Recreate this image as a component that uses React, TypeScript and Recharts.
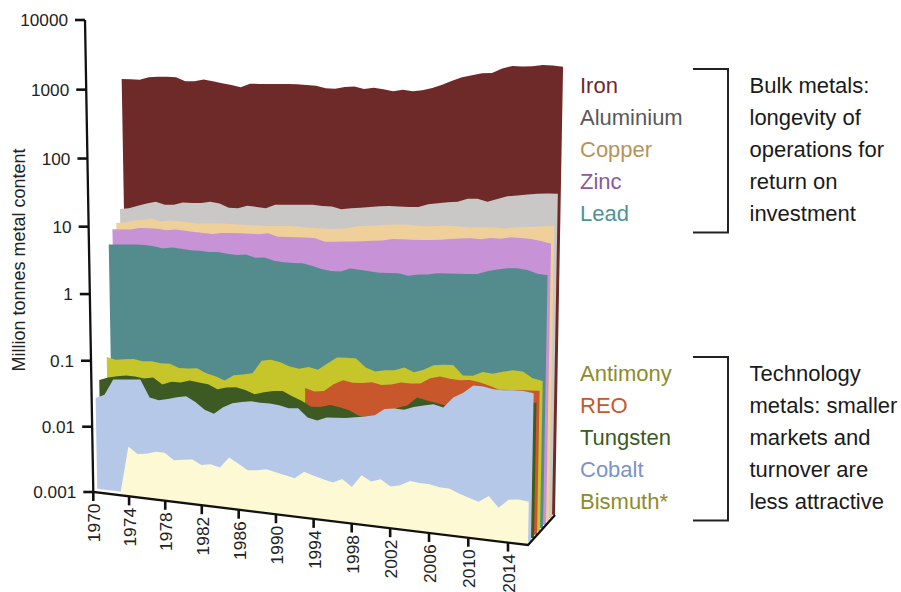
import { AreaChart, Area, XAxis, YAxis } from 'recharts'

const years = [
  1970, 1971, 1972, 1973, 1974, 1975, 1976, 1977, 1978, 1979, 1980, 1981, 1982, 1983, 1984, 1985,
  1986, 1987, 1988, 1989, 1990, 1991, 1992, 1993, 1994, 1995, 1996, 1997, 1998, 1999, 2000, 2001,
  2002, 2003, 2004, 2005, 2006, 2007, 2008, 2009, 2010, 2011, 2012, 2013, 2014, 2015, 2016,
]
const xTicks = [1970, 1974, 1978, 1982, 1986, 1990, 1994, 1998, 2002, 2006, 2010, 2014]
const yTicks = [0.001, 0.01, 0.1, 1, 10, 100, 1000, 10000]

// Million tonnes
const iron = [
  525, 534, 536, 596, 617, 627, 631, 564, 575, 624, 603, 575, 553, 525, 603, 612, 624, 638, 652, 661, 656, 652, 614, 617,
  670, 697, 656, 697, 676, 650, 697, 676, 716, 782, 891, 1030, 1175, 1280, 1390, 1430, 1680, 1860, 1860, 1920, 2040, 2040, 2000,
]
const aluminium = [
  7.4, 7.76, 8.7, 9.6, 10.5, 9.7, 10, 11.1, 11.2, 11.5, 12.3, 11.9, 10.6, 10.7, 11.9, 11.8, 11.6, 13.4, 13.7, 14.1, 14.5, 14.8, 14.6, 14.8,
  13.9, 14.7, 15.4, 16.1, 17, 17.6, 17.8, 18, 18.4, 20.7, 22, 23.2, 24.2, 27.4, 28.2, 26.3, 29.5, 33, 34.7, 36.8, 38.7, 39.8, 40.7,
]
const copper = [
  5.15, 5.35, 5.9, 6.27, 6.6, 6.2, 6.6, 6.6, 6.55, 6.45, 6.64, 6.84, 6.93, 6.98, 7.06, 7.13, 7.2, 7.38, 7.57, 7.78, 7.76, 7.71, 7.83, 7.92,
  8.13, 8.47, 9.3, 9.7, 10.1, 10.6, 11, 11.3, 11.3, 11.3, 11.7, 12.2, 12.3, 12.3, 12.4, 12.8, 13.1, 13, 13.8, 14.4, 15, 15.6, 16.2,
]
const zinc = [
  4.64, 4.72, 4.86, 5.25, 5.35, 5.43, 5.31, 5.56, 5.5, 5.43, 5.36, 5.35, 5.66, 5.82, 5.94, 6.02, 6.07, 6.44, 5.9, 6.03, 6.12, 6.25, 6.27, 5.75,
  5.92, 6.14, 6.31, 6.5, 6.8, 7.08, 7.6, 7.8, 7.84, 8, 8.25, 8.53, 9, 9.4, 9.77, 9.7, 10.4, 10.4, 11.2, 11.3, 11.2, 10.8, 10.2,
]
const lead = [
  3.1, 3.18, 3.26, 3.35, 3.41, 3.34, 3.18, 3.4, 3.33, 3.27, 3.3, 3.26, 3.34, 3.26, 3.21, 3.36, 3.1, 3.21, 2.96, 2.9, 2.9, 2.96, 2.82, 2.6,
  2.5, 2.52, 2.88, 2.83, 2.78, 2.73, 2.78, 2.84, 2.7, 2.9, 2.98, 3.18, 3.26, 3.33, 3.41, 3.5, 3.95, 4.29, 4.59, 4.74, 4.6, 4.19, 4.13,
]
const antimony = [
  0.0716, 0.0675, 0.0708, 0.0736, 0.0708, 0.073, 0.0705, 0.0716, 0.064, 0.0649, 0.0675, 0.0589, 0.0552, 0.049, 0.0607, 0.0645, 0.0695, 0.11, 0.118, 0.112, 0.1, 0.096, 0.105, 0.0995,
  0.127, 0.16, 0.164, 0.165, 0.126, 0.114, 0.123, 0.127, 0.144, 0.127, 0.143, 0.172, 0.18, 0.185, 0.135, 0.139, 0.162, 0.158, 0.175, 0.19, 0.188, 0.157, 0.148,
]
const reo = [
  null, null, null, null, null, null, null, null, null, null, null, null, null, null, null, null, null, null, null, null, null, null, 0.058, 0.0532,
  0.0562, 0.0728, 0.0863, 0.0817, 0.084, 0.089, 0.084, 0.0887, 0.098, 0.0975, 0.101, 0.125, 0.137, 0.131, 0.129, 0.134, 0.129, 0.119, 0.108, 0.111, 0.115, 0.117, 0.12,
]
const tungsten = [
  0.0408, 0.0458, 0.0494, 0.0523, 0.0525, 0.0505, 0.0543, 0.0439, 0.0498, 0.0505, 0.0558, 0.0541, 0.0523, 0.0456, 0.0501, 0.0523, 0.0492, 0.044, 0.0489, 0.0528, 0.0546, 0.0475, 0.042, 0.0355,
  0.0363, 0.0404, 0.0387, 0.0362, 0.0312, 0.0306, 0.0318, 0.0351, 0.0468, 0.0525, 0.071, 0.0662, 0.0632, 0.0598, 0.0543, 0.0562, 0.0581, 0.064, 0.071, 0.0757, 0.081, 0.0863, 0.0902,
]
const cobalt = [
  0.0243, 0.0282, 0.0498, 0.0515, 0.0532, 0.055, 0.0304, 0.0287, 0.031, 0.0339, 0.0365, 0.031, 0.0244, 0.0221, 0.0286, 0.0339, 0.0367, 0.0389, 0.0383, 0.0385, 0.0377, 0.0353, 0.0365, 0.0275,
  0.0257, 0.0296, 0.0304, 0.0313, 0.0332, 0.0351, 0.038, 0.0488, 0.051, 0.0508, 0.0575, 0.063, 0.0675, 0.063, 0.0908, 0.11, 0.145, 0.144, 0.137, 0.137, 0.141, 0.143, 0.137,
]
const bismuth = [
  0.001, 0.001, 0.001, 0.001, 0.00579, 0.00462, 0.00481, 0.00537, 0.00537, 0.0043, 0.00454, 0.00476, 0.00405, 0.00432, 0.004, 0.00589, 0.00492, 0.00408, 0.00425, 0.00457, 0.00427, 0.004, 0.00375, 0.00484,
  0.0044, 0.00405, 0.00376, 0.00439, 0.00349, 0.0054, 0.00452, 0.00508, 0.00412, 0.00446, 0.00537, 0.00522, 0.00518, 0.00489, 0.00485, 0.00426, 0.00385, 0.00349, 0.0044, 0.0031, 0.00419, 0.00442, 0.00426,
]

const tableData = years.map((year, i) => ({
  year,
  iron: iron[i],
  aluminium: aluminium[i],
  copper: copper[i],
  zinc: zinc[i],
  lead: lead[i],
  antimony: antimony[i],
  reo: reo[i],
  tungsten: tungsten[i],
  cobalt: cobalt[i],
  bismuth: bismuth[i],
}))

// back to front; depth is the slab's place between the front and the back plane
const layers = [
  { key: 'iron', color: '#6e2a28', depth: 9 },
  { key: 'aluminium', color: '#c9c8c6', depth: 8 },
  { key: 'copper', color: '#efcf9a', depth: 7 },
  { key: 'zinc', color: '#c792d6', depth: 6 },
  { key: 'lead', color: '#548c8e', depth: 5 },
  { key: 'antimony', color: '#c6c62a', depth: 4 },
  { key: 'reo', color: '#c8572c', depth: 3 },
  { key: 'tungsten', color: '#3c5a22', depth: 2 },
  { key: 'cobalt', color: '#b5c8e8', depth: 1 },
  { key: 'bismuth', color: '#fcf9d4', depth: 0 },
]

const bulkLegend = [
  { name: 'Iron', color: '#6e2a28' },
  { name: 'Aluminium', color: '#58585a' },
  { name: 'Copper', color: '#b8935a' },
  { name: 'Zinc', color: '#8a5a9a' },
  { name: 'Lead', color: '#4f9492' },
]
const techLegend = [
  { name: 'Antimony', color: '#8c8c2a' },
  { name: 'REO', color: '#c8572c' },
  { name: 'Tungsten', color: '#3c5a22' },
  { name: 'Cobalt', color: '#7c93c8' },
  { name: 'Bismuth*', color: '#8c8c2a' },
]
const bulkNote = ['Bulk metals:', 'longevity of', 'operations for', 'return on', 'investment']
const techNote = ['Technology', 'metals: smaller', 'markets and', 'turnover are', 'less attractive']

const W = 440
const H = 470
const AXIS_SPACE = 40
const FONT = '"Liberation Sans", Arial, sans-serif'

// corners of a slab on the page: the plot rectangle is warped onto them
function corners(depth: number) {
  return {
    tl: [85 + 3.9 * depth, 20 - 3.33 * depth],
    tr: [537 + 3 * depth, 45 - 3.33 * depth],
    br: [528 + 3 * depth, 545 - 3.33 * depth],
    bl: [93.3 + 3.9 * depth, 492 - 3.33 * depth],
  }
}

function homography(depth: number) {
  const { tl, tr, br, bl } = corners(depth)
  const dx1 = tr[0] - br[0]
  const dx2 = bl[0] - br[0]
  const sx = tl[0] - tr[0] + br[0] - bl[0]
  const dy1 = tr[1] - br[1]
  const dy2 = bl[1] - br[1]
  const sy = tl[1] - tr[1] + br[1] - bl[1]
  const det = dx1 * dy2 - dx2 * dy1
  const g = (sx * dy2 - dx2 * sy) / det
  const h = (dx1 * sy - sx * dy1) / det
  const a = tr[0] - tl[0] + g * tr[0]
  const b = bl[0] - tl[0] + h * bl[0]
  const d = tr[1] - tl[1] + g * tr[1]
  const e = bl[1] - tl[1] + h * bl[1]
  return { a, b, c: tl[0], d, e, f: tl[1], g, h }
}

// plot coordinates (as the chart's scales give them) to page coordinates
function project(x: number, y: number, depth = 0) {
  const m = homography(depth)
  const u = x / W
  const v = y / H
  const w = m.g * u + m.h * v + 1
  return [(m.a * u + m.b * v + m.c) / w, (m.d * u + m.e * v + m.f) / w]
}

function XTick({ x, payload }: any) {
  const [px, py] = project(x - AXIS_SPACE, H)
  return (
    <g>
      <line x1={px} y1={py} x2={px} y2={py + 9} stroke="#111" strokeWidth={2.6} />
      <text
        transform={`translate(${px + 7} ${py + 11.5}) rotate(-90)`}
        textAnchor="end"
        fontFamily={FONT}
        fontSize={17.4}
        fill="#222"
      >
        {payload.value}
      </text>
    </g>
  )
}

function YTick({ y, payload }: any) {
  const [px, py] = project(0, y)
  return (
    <g>
      <line x1={px - 10} y1={py} x2={px} y2={py} stroke="#111" strokeWidth={2.6} />
      <text x={px - 17} y={py + 6} textAnchor="end" fontFamily={FONT} fontSize={17.2} fill="#222">
        {payload.value}
      </text>
    </g>
  )
}

// the Area hands us its scaled points; draw them once as a slab in perspective
function slabShape(color: string, depth: number) {
  return (props: any) => {
    if (props.index !== 0) return <g key={props.index} />
    const top = props.points
      .filter((p: any) => p.y != null && Number.isFinite(p.y))
      .map((p: any) => project(p.x - AXIS_SPACE, p.y, depth))
    const first = props.points.find((p: any) => p.y != null && Number.isFinite(p.y))
    const last = props.points[props.points.length - 1]
    const outline = [
      project(first.x - AXIS_SPACE, H, depth),
      ...top,
      project(last.x - AXIS_SPACE, H, depth),
    ]
    return <polygon key="slab" points={outline.map((p) => p.join(',')).join(' ')} fill={color} />
  }
}

function LabelColumn({ items, top }: { items: { name: string; color: string }[]; top: number }) {
  return (
    <>
      {items.map((item, i) => (
        <text key={item.name} x={580} y={top + i * 32.2} fontFamily={FONT} fontSize={22} fill={item.color}>
          {item.name}
        </text>
      ))}
    </>
  )
}

function NoteColumn({ lines, top }: { lines: string[]; top: number }) {
  return (
    <>
      {lines.map((line, i) => (
        <text key={line} x={749.5} y={top + i * 32.2} fontFamily={FONT} fontSize={22} fill="#1a1a1a">
          {line}
        </text>
      ))}
    </>
  )
}

export default function App() {
  const [cornerX, cornerY] = project(W, H)
  const [originX, originY] = project(0, H)
  const [topX, topY] = project(0, 0)
  return (
    <div style={{ position: 'absolute', left: 0, top: 0, width: 901, height: 592, overflow: 'hidden', background: '#fff' }}>
      <style>{'.recharts-surface{overflow:visible}'}</style>

      <div style={{ position: 'absolute', left: 0, top: 0 }}>
        <AreaChart
          width={W + AXIS_SPACE}
          height={H + AXIS_SPACE}
          data={tableData}
          margin={{ top: 0, right: 0, bottom: 0, left: 0 }}
        >
          <XAxis
            dataKey="year"
            type="number"
            domain={[1970, 2016]}
            ticks={xTicks}
            interval={0}
            height={AXIS_SPACE}
            axisLine={false}
            tickLine={false}
            tick={<XTick />}
          />
          <YAxis
            scale="log"
            domain={[0.001, 10000]}
            ticks={yTicks}
            interval={0}
            width={AXIS_SPACE}
            axisLine={false}
            tickLine={false}
            tick={<YTick />}
          />
          {layers.map((l) => (
            <Area
              key={l.key}
              type="linear"
              dataKey={l.key}
              fill="none"
              stroke="none"
              dot={slabShape(l.color, l.depth)}
              activeDot={false}
              isAnimationActive={false}
            />
          ))}
        </AreaChart>
      </div>

      <svg width={901} height={592} style={{ position: 'absolute', left: 0, top: 0 }}>
        <polyline
          points={`${topX},${topY} ${originX},${originY} ${cornerX},${cornerY} 555,515`}
          fill="none"
          stroke="#111"
          strokeWidth={2.3}
        />
        <text
          transform="translate(25 260) rotate(-90)"
          textAnchor="middle"
          fontFamily={FONT}
          fontSize={18}
          fill="#222"
        >
          Million tonnes metal content
        </text>
        <LabelColumn items={bulkLegend} top={92.5} />
        <LabelColumn items={techLegend} top={380.5} />
        <NoteColumn lines={bulkNote} top={92.5} />
        <NoteColumn lines={techNote} top={380.5} />
        <path d="M693 69H728V232.5H693" fill="none" stroke="#222" strokeWidth={2} />
        <path d="M693 357H728V520.5H693" fill="none" stroke="#222" strokeWidth={2} />
      </svg>
    </div>
  )
}
